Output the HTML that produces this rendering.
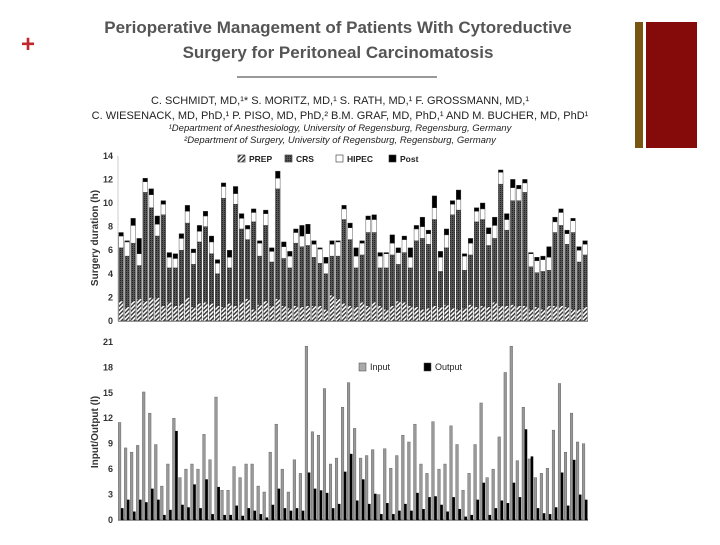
<!DOCTYPE html>
<html><head><meta charset="utf-8"><style>
body{margin:0;background:#fff;width:720px;height:540px;overflow:hidden;font-family:"Liberation Sans",sans-serif}
</style></head><body>
<svg width="720" height="540" xmlns="http://www.w3.org/2000/svg">
<defs>
<pattern id="hatch" width="3" height="3" patternUnits="userSpaceOnUse" patternTransform="rotate(45)"><rect width="3" height="3" fill="#fff"/><rect width="1.4" height="3" fill="#333"/></pattern>
<pattern id="dots" width="2" height="2" patternUnits="userSpaceOnUse"><rect width="2" height="2" fill="#555"/><rect width="1" height="1" fill="#222"/></pattern>
</defs>
<text x="28" y="52" fill="#c0282d" font-size="24" font-weight="bold" text-anchor="middle">+</text>
<rect x="635" y="22" width="8" height="126" fill="#7a5512"/>
<rect x="646" y="22" width="51" height="126" fill="#850a0a"/>
<text x="338" y="33" font-size="17" font-weight="bold" fill="#555" text-anchor="middle">Perioperative Management of Patients With Cytoreductive</text>
<text x="338" y="58" font-size="17" font-weight="bold" fill="#555" text-anchor="middle">Surgery for Peritoneal Carcinomatosis</text>
<line x1="237" y1="77" x2="437" y2="77" stroke="#333" stroke-width="1"/>
<text x="340" y="104" font-size="11" fill="#222" text-anchor="middle">C. SCHMIDT, MD,¹* S. MORITZ, MD,¹ S. RATH, MD,¹ F. GROSSMANN, MD,¹</text>
<text x="340" y="119" font-size="11" fill="#222" text-anchor="middle">C. WIESENACK, MD, PhD,¹ P. PISO, MD, PhD,² B.M. GRAF, MD, PhD,¹ AND M. BUCHER, MD, PhD¹</text>
<text x="340" y="131" font-size="9.5" font-style="italic" fill="#222" text-anchor="middle">¹Department of Anesthesiology, University of Regensburg, Regensburg, Germany</text>
<text x="340" y="143" font-size="9.5" font-style="italic" fill="#222" text-anchor="middle">²Department of Surgery, University of Regensburg, Regensburg, Germany</text>
<g id="topchart"></g>
<g id="botchart"></g>
</svg>
<script>
const crsTop=[6.2,5.5,6.6,4.7,10.9,9.6,7.2,9.0,4.5,4.5,6.0,8.3,4.8,6.7,8.0,5.7,4.0,10.4,4.5,9.9,7.8,6.9,8.4,5.5,8.1,5.0,11.2,5.3,4.5,6.6,6.3,6.4,5.4,4.9,4.0,5.5,5.5,8.6,6.9,4.5,5.6,7.5,7.5,4.5,4.5,5.6,4.8,5.8,4.5,6.8,7.0,6.5,8.6,4.2,6.2,9.0,9.4,4.3,5.6,8.4,8.6,6.4,7.0,11.6,7.7,10.2,10.2,10.9,4.6,4.1,4.2,4.3,7.5,8.1,6.5,7.5,5.0,5.6];
const totals=[7.5,6.8,8.7,7.0,12.1,11.2,8.9,10.2,5.8,5.7,7.4,9.8,6.1,8.1,9.3,7.2,5.2,11.7,6.0,11.4,9.1,8.1,9.5,6.8,9.4,6.2,12.7,6.7,5.9,7.8,8.1,8.2,6.8,6.2,5.4,6.8,6.8,9.8,8.3,6.2,6.8,8.9,9.0,5.8,5.8,7.3,6.2,7.2,6.2,8.1,8.8,7.7,10.6,5.9,7.8,10.2,11.1,5.7,7.0,9.6,10.0,7.9,8.8,12.8,9.1,12.0,11.5,12.0,5.8,5.4,5.5,6.3,8.8,9.5,7.7,8.7,6.3,6.8];
const postDur=[0.3,0.1,0.6,1.3,0.3,0.5,0.7,0.3,0.4,0.4,0.4,0.5,0.3,0.5,0.4,0.5,0.3,0.3,0.6,0.6,0.4,0.3,0.3,0.2,0.3,0.3,0.6,0.4,0.4,0.3,0.9,0.8,0.3,0.1,0.5,0.3,0.1,0.3,0.4,0.7,0.2,0.3,0.4,0.3,0.1,0.7,0.4,0.3,0.8,0.3,0.8,0.3,1.0,0.5,0.5,0.3,0.8,0.2,0.4,0.3,0.5,0.5,0.7,0.2,0.5,0.7,0.3,0.3,0.1,0.3,0.3,0.9,0.4,0.3,0.3,0.2,0.3,0.3];
const prepDur=[1.7,1.2,1.7,1.9,1.7,2.0,2.0,1.3,1.6,1.3,1.5,2.0,1.2,1.5,1.6,1.5,1.3,1.2,1.5,1.3,1.6,1.9,1.0,1.4,1.7,1.3,1.9,1.3,1.1,1.3,1.2,1.3,1.3,1.3,1.0,2.2,1.9,1.5,1.3,1.2,1.6,1.3,1.6,1.3,1.0,1.3,1.7,1.6,1.3,1.2,1.0,1.1,1.3,1.2,1.4,1.1,1.0,1.1,1.4,1.2,1.3,1.2,1.6,1.3,1.3,1.4,1.3,1.3,1.0,1.2,1.0,1.3,1.3,1.3,1.2,1.0,1.0,1.2];
const topTicks=[0,2,4,6,8,10,12,14];
const inputVol=[11.5,8.5,8.0,8.8,15.1,12.6,8.9,4.0,6.6,12.0,5.0,6.0,6.6,6.0,10.1,7.1,14.5,3.5,3.5,6.3,5.0,6.6,6.6,4.0,3.3,8.0,11.3,6.0,3.3,7.1,5.5,20.5,10.4,10.0,15.5,6.6,7.3,13.3,16.2,10.8,7.3,7.6,8.3,3.0,8.4,6.1,7.6,10.0,9.2,11.3,6.6,5.5,11.6,6.0,6.6,11.1,8.9,3.5,5.5,8.9,13.8,5.0,6.0,9.8,17.4,20.5,7.0,13.3,7.2,5.0,5.5,6.1,10.6,16.1,8.0,12.6,9.2,9.0];
const outputVol=[1.4,2.4,1.0,2.4,2.1,3.7,2.4,0.6,1.2,10.5,1.8,1.5,4.2,1.4,4.8,0.7,3.9,0.6,0.6,1.7,0.5,1.4,1.1,0.7,0.3,1.8,3.7,1.4,1.1,1.4,1.1,5.6,3.7,3.5,3.2,1.4,1.9,5.7,7.8,2.3,4.8,1.9,3.1,0.7,2.0,0.7,1.1,1.9,1.1,3.2,1.3,2.7,2.8,1.8,1.0,2.7,1.3,0.4,0.6,2.4,4.4,0.6,1.4,2.3,2.0,4.4,2.7,10.7,7.5,1.4,0.8,0.7,1.5,5.6,1.7,7.1,3.0,2.4];
const botTicks=[0,3,6,9,12,15,18,21];

const NS="http://www.w3.org/2000/svg";
function mk(parent,tag,attrs){const e=document.createElementNS(NS,tag);for(const k in attrs)e.setAttribute(k,attrs[k]);parent.appendChild(e);return e;}
const X0=118,X1=588;
const topG=document.getElementById('topchart');
const yT=v=>321-v*11.8;
const stepT=(X1-X0)/totals.length;
mk(topG,'line',{x1:X0,y1:321,x2:X1,y2:321,stroke:'#222'});
mk(topG,'line',{x1:X0,y1:yT(0),x2:X0,y2:yT(14),stroke:'#ccc'});
topTicks.forEach(t=>{const tx=mk(topG,'text',{x:X0-5,y:yT(t)+3,'font-size':9,'font-weight':'bold',fill:'#333','text-anchor':'end'});tx.textContent=t;

});
const yl=mk(topG,'text',{x:98,y:238,'font-size':10,'font-weight':'bold',fill:'#333','text-anchor':'middle',transform:'rotate(-90 98 238)'});yl.textContent='Surgery duration (h)';


totals.forEach((tot,i)=>{const x=X0+i*stepT+0.8,w=stepT-1.4;
const pe=prepDur[i],ce=crsTop[i],he=tot-postDur[i];
const segs=[[0,pe,'url(#hatch)','bar-prep'],[pe,ce,'url(#dots)','bar-crs'],[ce,he,'#fff','bar-hipec'],[he,tot,'#000','bar-post']];
segs.forEach(s=>{if(s[1]<=s[0])return;const r=mk(topG,'rect',{x:x,y:yT(s[1]),width:w,height:yT(s[0])-yT(s[1]),fill:s[2],stroke:'#333','stroke-width':0.4});

});});
const legT=[['PREP','url(#hatch)',238],['CRS','url(#dots)',285],['HIPEC','#fff',336],['Post','#000',389]];
legT.forEach(l=>{const g=mk(topG,'g',{});


mk(g,'rect',{x:l[2],y:155,width:7,height:7,fill:l[1],stroke:'#333','stroke-width':0.6});
const t=mk(g,'text',{x:l[2]+11,y:162,'font-size':8.5,'font-weight':'bold',fill:'#222'});t.textContent=l[0];});
const botG=document.getElementById('botchart');
const yB=v=>520-v*8.48;
const stepB=(X1-X0)/inputVol.length;
mk(botG,'line',{x1:X0,y1:520,x2:X1,y2:520,stroke:'#222'});
botTicks.forEach(t=>{const tx=mk(botG,'text',{x:X0-5,y:yB(t)+3,'font-size':9,'font-weight':'bold',fill:'#333','text-anchor':'end'});tx.textContent=t;

});
const yl2=mk(botG,'text',{x:98,y:432,'font-size':10,'font-weight':'bold',fill:'#333','text-anchor':'middle',transform:'rotate(-90 98 432)'});yl2.textContent='Input/Output (l)';


inputVol.forEach((v,i)=>{const x=X0+i*stepB+0.3,w=(stepB-0.8)/2;
const r=mk(botG,'rect',{x:x,y:yB(v),width:w,height:520-yB(v),fill:'#999',stroke:'#555','stroke-width':0.4});


const o=outputVol[i];const r2=mk(botG,'rect',{x:x+w,y:yB(o),width:w,height:520-yB(o),fill:'#000'});

});
const legB=[['Input','#aaa',359],['Output','#000',424]];
legB.forEach(l=>{const g=mk(botG,'g',{});


mk(g,'rect',{x:l[2],y:363,width:7,height:8,fill:l[1],stroke:'#444','stroke-width':0.5});
const t=mk(g,'text',{x:l[2]+11,y:370,'font-size':9,fill:'#222'});t.textContent=l[0];});
</script>
</body></html>
